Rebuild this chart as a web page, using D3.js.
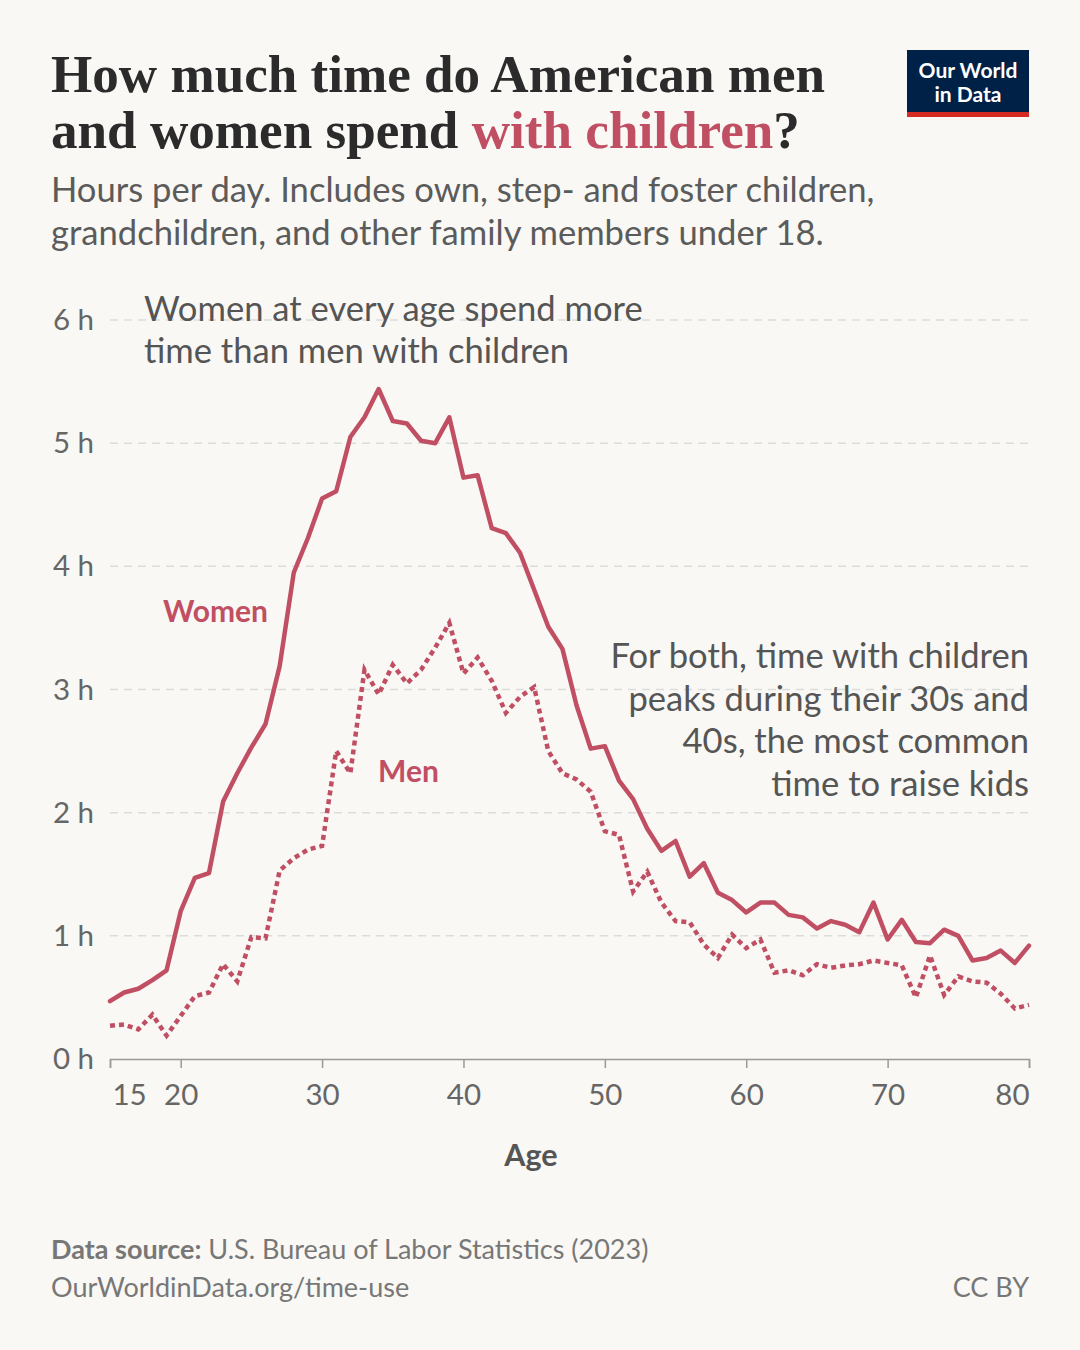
<!DOCTYPE html>
<html>
<head>
<meta charset="utf-8">
<script src="https://d3js.org/d3.v7.min.js"></script>
<style>
  body { margin: 0; background: #f9f8f4; }
  svg { display: block; }
</style>
</head>
<body>
<div id="chart"></div>
<script>
// ages 15..80
var ages = d3.range(15, 81);

var women = [0.47, 0.54, 0.57, 0.64, 0.72, 1.20, 1.47, 1.51, 2.09, 2.32,
             2.53, 2.72, 3.19, 3.95, 4.23, 4.55, 4.61, 5.05, 5.21, 5.44,
             5.18, 5.16, 5.02, 5.00, 5.21, 4.72, 4.74, 4.31, 4.27, 4.11,
             3.81, 3.51, 3.33, 2.87, 2.52, 2.54, 2.26, 2.11, 1.87, 1.69,
             1.77, 1.48, 1.59, 1.35, 1.29, 1.19, 1.27, 1.27, 1.17, 1.15,
             1.06, 1.12, 1.09, 1.03, 1.27, 0.97, 1.13, 0.95, 0.94, 1.05,
             1.00, 0.80, 0.82, 0.88, 0.78, 0.92];

var men = [0.27, 0.28, 0.24, 0.36, 0.19, 0.35, 0.51, 0.54, 0.77, 0.63,
           0.99, 0.98, 1.53, 1.63, 1.70, 1.73, 2.50, 2.32, 3.16, 2.96,
           3.20, 3.05, 3.16, 3.34, 3.54, 3.13, 3.26, 3.07, 2.81, 2.94,
           3.02, 2.50, 2.32, 2.27, 2.17, 1.85, 1.82, 1.36, 1.52, 1.27,
           1.12, 1.11, 0.93, 0.82, 1.01, 0.90, 0.97, 0.70, 0.72, 0.68,
           0.77, 0.74, 0.76, 0.77, 0.80, 0.78, 0.76, 0.50, 0.84, 0.52,
           0.67, 0.63, 0.62, 0.53, 0.41, 0.44];

var xTicks = [15, 20, 30, 40, 50, 60, 70, 80];
var yTicks = [0, 1, 2, 3, 4, 5, 6];

var W = 1080, H = 1350;
var red = "#c14f63";
var sans = "Lato, 'Noto Sans', sans-serif";

var svg = d3.select("#chart").append("svg")
    .attr("width", W).attr("height", H);

svg.append("rect").attr("width", W).attr("height", H).attr("fill", "#f9f8f4");

var x = d3.scaleLinear().domain([15, 80]).range([110, 1029]);
var y = d3.scaleLinear().domain([0, 6]).range([1059, 320]);

// title
var title = svg.append("g");
function titleLine(parts, yy, target) {
  var t = title.append("text")
      .attr("x", 51).attr("y", yy)
      .attr("font-family", "'Liberation Serif', 'DejaVu Serif', serif")
      .attr("font-weight", 700)
      .attr("font-size", 56)
      .attr("fill", "#2b2b2b");
  parts.forEach(function(p) {
    t.append("tspan").text(p[0]).attr("fill", p[1]);
  });
  var w = t.node().getComputedTextLength();
  t.attr("font-size", 56 * target / w);
}
titleLine([["How much time do American men", "#2b2b2b"]], 92, 774);
titleLine([["and women spend ", "#2b2b2b"], ["with children", red], ["?", "#2b2b2b"]], 148, 749);

// subtitle
var sub = ["Hours per day. Includes own, step- and foster children,",
           "grandchildren, and other family members under 18."];
svg.selectAll(".sub").data(sub).enter().append("text")
    .attr("x", 51).attr("y", function(d, i) { return 202 + i * 43; })
    .attr("font-family", sans).attr("font-size", 34.6)
    .attr("fill", "#5b5b5b").text(function(d) { return d; });

// logo
var logo = svg.append("g");
logo.append("rect").attr("x", 907).attr("y", 50).attr("width", 122).attr("height", 67).attr("fill", "#002147");
logo.append("rect").attr("x", 907).attr("y", 112).attr("width", 122).attr("height", 5).attr("fill", "#d42b21");
logo.selectAll("text").data(["Our World", "in Data"]).enter().append("text")
    .attr("x", 968).attr("y", function(d, i) { return 78 + i * 24; })
    .attr("text-anchor", "middle")
    .attr("font-family", sans).attr("font-weight", 700).attr("font-size", 21)
    .attr("fill", "#fff").text(function(d) { return d; });

// gridlines
svg.append("g").selectAll("line").data(yTicks.slice(1)).enter().append("line")
    .attr("x1", 110).attr("x2", 1029)
    .attr("y1", function(d) { return y(d); }).attr("y2", function(d) { return y(d); })
    .attr("stroke", "#dcdcdc").attr("stroke-width", 1.5)
    .attr("stroke-dasharray", "8,6");

// y axis labels
svg.append("g").selectAll("text").data(yTicks).enter().append("text")
    .attr("x", 94).attr("y", function(d) { return y(d) + 10; })
    .attr("text-anchor", "end")
    .attr("font-family", sans).attr("font-size", 29.5).attr("fill", "#666")
    .text(function(d) { return d + " h"; });

// x axis
var xAxis = svg.append("g")
    .attr("transform", "translate(0," + y(0) + ")")
    .call(d3.axisBottom(x).tickValues(xTicks).tickSize(9).tickPadding(12).tickFormat(d3.format("d")));
xAxis.select(".domain").attr("stroke", "#999").attr("stroke-width", 1.5);
xAxis.selectAll(".tick line").attr("stroke", "#999").attr("stroke-width", 1.5);
xAxis.selectAll(".tick text")
    .attr("font-family", sans).attr("font-size", 29.5).attr("fill", "#666")
    .attr("dy", "0.85em");
xAxis.selectAll(".tick").filter(function(d) { return d === 15; }).select("text")
    .attr("text-anchor", "start").attr("dx", 2);
xAxis.selectAll(".tick").filter(function(d) { return d === 80; }).select("text")
    .attr("text-anchor", "end");

svg.append("text").attr("x", 531).attr("y", 1166)
    .attr("text-anchor", "middle")
    .attr("font-family", sans).attr("font-weight", 700).attr("font-size", 30.5)
    .attr("fill", "#555").text("Age");

// lines
var line = d3.line()
    .x(function(d) { return x(d[0]); })
    .y(function(d) { return y(d[1]); });

svg.append("path")
    .datum(d3.zip(ages, women))
    .attr("d", line)
    .attr("fill", "none").attr("stroke", red).attr("stroke-width", 4.5)
    .attr("stroke-linejoin", "round").attr("stroke-linecap", "round");

svg.append("path")
    .datum(d3.zip(ages, men))
    .attr("d", line)
    .attr("fill", "none").attr("stroke", red).attr("stroke-width", 4.5)
    .attr("stroke-dasharray", "5,4");

// series labels
svg.append("text").attr("x", 163).attr("y", 622)
    .attr("font-family", sans).attr("font-weight", 700).attr("font-size", 30)
    .attr("fill", red).text("Women");
svg.append("text").attr("x", 378).attr("y", 782)
    .attr("font-family", sans).attr("font-weight", 700).attr("font-size", 30)
    .attr("fill", red).text("Men");

// annotations
var note1 = ["Women at every age spend more", "time than men with children"];
svg.append("g").selectAll("text").data(note1).enter().append("text")
    .attr("x", 144).attr("y", function(d, i) { return 321 + i * 42; })
    .attr("font-family", sans).attr("font-size", 34.6).attr("fill", "#555")
    .text(function(d) { return d; });

var note2 = ["For both, time with children", "peaks during their 30s and",
             "40s, the most common", "time to raise kids"];
svg.append("g").selectAll("text").data(note2).enter().append("text")
    .attr("x", 1029).attr("y", function(d, i) { return 668 + i * 42.5; })
    .attr("text-anchor", "end")
    .attr("font-family", sans).attr("font-size", 34.6).attr("fill", "#555")
    .text(function(d) { return d; });

// footer
var src = svg.append("text").attr("x", 51).attr("y", 1259)
    .attr("font-family", sans).attr("font-size", 27).attr("fill", "#777");
src.append("tspan").attr("font-weight", 700).text("Data source:");
src.append("tspan").text(" U.S. Bureau of Labor Statistics (2023)");

svg.append("text").attr("x", 51).attr("y", 1297)
    .attr("font-family", sans).attr("font-size", 27).attr("fill", "#777")
    .text("OurWorldinData.org/time-use");
svg.append("text").attr("x", 1029).attr("y", 1297).attr("text-anchor", "end")
    .attr("font-family", sans).attr("font-size", 27).attr("fill", "#777")
    .text("CC BY");
</script>
</body>
</html>
